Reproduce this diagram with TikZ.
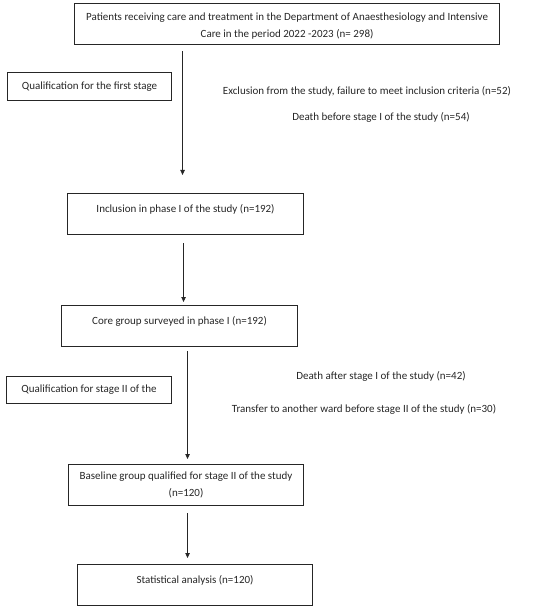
\documentclass[tikz,border=0pt]{standalone}
\usepackage{fontspec}
\setmainfont{Carlito}
\usetikzlibrary{arrows.meta}
\begin{document}
\begin{tikzpicture}[x=1pt,y=-1pt,
  box/.style={draw=black!85, line width=1.1pt, anchor=north west, align=center,
    inner sep=0pt, font=\fontsize{11}{17}\selectfont, text=black!85},
  lab/.style={anchor=base, font=\fontsize{11}{17}\selectfont, text=black!85, inner sep=0pt},
  arr/.style={draw=black!85, line width=0.8pt, -{Triangle[length=5pt,width=4.5pt]}}]
\useasboundingbox (0,0) rectangle (550,612);
\node[box, minimum width=425pt, minimum height=41pt] (top) at (74,3)
  {\rule{0pt}{11pt}Patients receiving care and treatment in the Department of Anaesthesiology and Intensive\\Care in the period 2022 -2023 (n= 298)};
\node[box, minimum width=164pt, minimum height=28pt] (q1) at (7,72)
  {Qualification for the first stage};
\node[lab] (ex1) at (367,95) {Exclusion from the study, failure to meet inclusion criteria (n=52)};
\node[lab] (ex2) at (381,121) {Death before stage I of the study (n=54)};
\node[box, minimum width=236pt, minimum height=41pt] (inc) at (67,193)
  {Inclusion in phase I of the study (n=192)\\[-11pt] \strut};
\node[box, minimum width=236pt, minimum height=41pt] (core) at (61,305)
  {Core group surveyed in phase I (n=192)\\[-11pt] \strut};
\node[box, minimum width=165pt, minimum height=27pt] (q2) at (6,376)
  {Qualification for stage II of the};
\node[lab] (ex3) at (381,379) {Death after stage I of the study (n=42)};
\node[lab] (ex4) at (364,412) {Transfer to another ward before stage II of the study (n=30)};
\node[box, minimum width=235pt, minimum height=41pt] (base) at (68,464)
  {Baseline group qualified for stage II of the study\\(n=120)};
\node[box, minimum width=235pt, minimum height=41pt] (stat) at (77,564)
  {Statistical analysis (n=120)\\[-11pt] \strut};
\draw[arr, shorten <=6pt, shorten >=18pt] ([xshift=-3pt]top.south -| inc.north) -- ([xshift=-3pt]inc.north);
\draw[arr, shorten <=8pt, shorten >=3pt] ([xshift=-2pt]inc.south) -- ([xshift=4pt]core.north);
\draw[arr, shorten <=4pt, shorten >=5pt] ([xshift=8pt]core.south) -- ([xshift=1.5pt]base.north);
\draw[arr, shorten <=7pt, shorten >=6pt] ([xshift=1.5pt]base.south) -- ([xshift=-7.5pt]stat.north);
\end{tikzpicture}
\end{document}
